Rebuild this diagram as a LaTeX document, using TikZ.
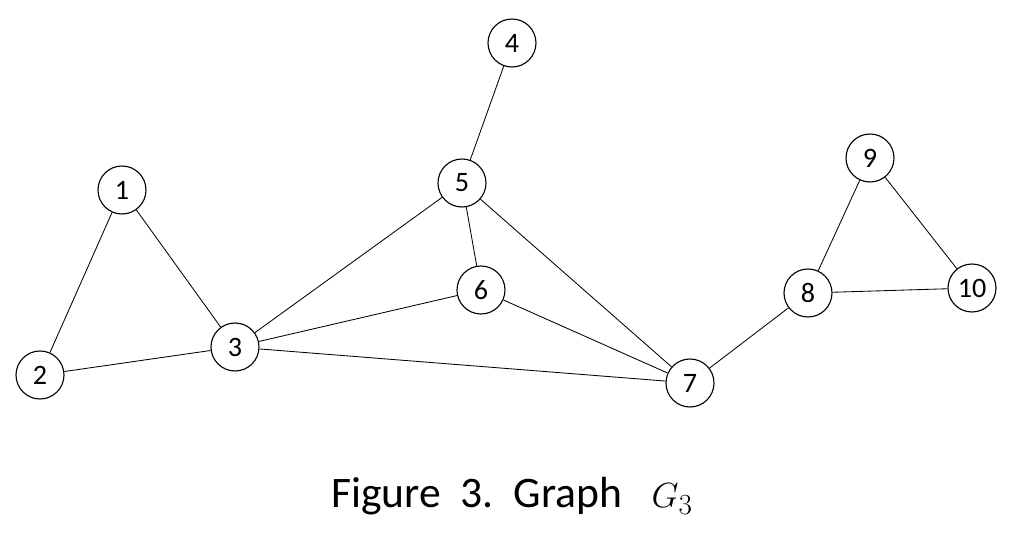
\documentclass[tikz,border=0pt]{standalone}
\usepackage{fontspec}
\setmainfont{Carlito}
\begin{document}
\begin{tikzpicture}
  \tikzstyle{every node}=[font=\fontsize{20}{22}\selectfont]
  \tikzstyle{vertex}=[draw,circle,thick,minimum size=1.2cm,inner sep=0pt]
  \useasboundingbox (0,0) rectangle (25.6,13.5);

  \node [vertex] (v1) at (3.05,8.75) {1};
  \node [vertex] (v2) at (1.0,4.125) {2};
  \node [vertex] (v3) at (5.875,4.825) {3};
  \node [vertex] (v4) at (12.8,12.425) {4};
  \node [vertex] (v5) at (11.55,8.925) {5};
  \node [vertex] (v6) at (12.025,6.25) {6};
  \node [vertex] (v7) at (17.25,3.925) {7};
  \node [vertex] (v8) at (20.2,6.175) {8};
  \node [vertex] (v9) at (21.75,9.55) {9};
  \node [vertex] (v10) at (24.3,6.3) {10};

  \draw [semithick] (v1) -- (v2);
  \draw [semithick] (v1) -- (v3);
  \draw [semithick] (v2) -- (v3);
  \draw [semithick] (v3) -- (v5);
  \draw [semithick] (v3) -- (v6);
  \draw [semithick] (v3) -- (v7);
  \draw [semithick] (v4) -- (v5);
  \draw [semithick] (v5) -- (v6);
  \draw [semithick] (v5) -- (v7);
  \draw [semithick] (v6) -- (v7);
  \draw [semithick] (v7) -- (v8);
  \draw [semithick] (v8) -- (v9);
  \draw [semithick] (v8) -- (v10);
  \draw [semithick] (v9) -- (v10);

  \node (caption) at (12.8,1.1) {\fontsize{31}{34}\selectfont Figure\ \ 3.\ \ Graph\ \ \ $G_3$};
\end{tikzpicture}
\end{document}
